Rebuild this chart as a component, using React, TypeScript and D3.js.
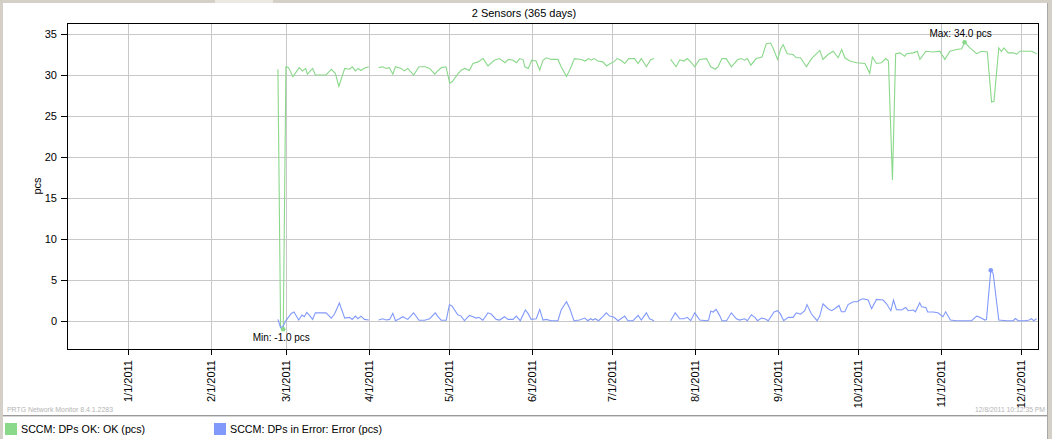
import React from "react";
import * as d3 from "d3";

// ---- data (day offsets from 1/1/2011, values in pcs; null = gap) ----
const okDays = [56,57,58,59,60,61.6,64,65.2,66.4,67,69,70,74,76,77.5,78.8,81,82.8,83.8,85,86,87,88.5,90,92,
  93.7,95.2,96.5,97.7,99,100,102.1,103.3,104.6,106.8,108.8,111,112.8,114.7,116,117.2,118.9,120.3,121.3,123.5,124.7,126,127.6,129,130.9,132.8,134.6,137,138.9,141,142.2,144,145.3,146.5,147.8,148.4,149.7,151,152.6,154,155.2,156.4,158.3,160.8,162,164,165.2,167,169.5,171,172.2,173.3,174.3,175.8,177.6,179,180.4,181.7,183,184.4,185.8,187.3,189.5,190.8,192,193,193.9,195.5,196.8,200,
  203,205,206.4,208,209.2,210.5,212,213.8,216.4,218,219.7,220.7,222.2,223.8,225.7,228,229.4,230.7,231.7,233,235,237.2,238.8,240.4,241.3,243,244.2,245.1,246.6,248.8,250,251.6,253.8,255.7,257.6,258.8,260,261.9,263.8,265.7,267,268.2,270,272.7,275.7,277.5,278.5,280,281.9,283.5,284.5,286,287.2,288.8,290.6,291.3,293.8,295.3,296.3,298.5,301.2,303.7,305.6,307.5,310,311.9,313,315,317.5,319.3,321.5,323.1,324,325.8,326.8,327.7,329.3,331.2,332.5,333.7,336.2,338.1,339.2,340];
const okValues = [30.7,-0.8,-1.0,31.0,30.9,29.8,30.9,30.5,30.8,30.1,30.8,30.0,30.0,30.7,30.2,28.6,30.8,30.7,31.0,30.5,30.8,30.55,30.85,31.0,null,
  30.9,31.0,30.8,30.9,30.1,31.0,30.8,30.5,30.8,30.0,31.0,31.0,30.8,30.1,30.55,30.9,31.0,29.0,29.2,30.2,30.6,30.8,30.55,31.4,31.6,32.0,31.1,31.8,32.0,31.5,31.9,31.8,31.5,32.0,31.85,31.0,30.8,31.8,31.7,30.6,31.8,32.1,31.9,31.9,31.0,29.8,30.6,32.0,31.9,31.7,32.0,31.8,32.0,31.7,31.6,31.1,31.4,31.6,32.0,31.8,31.4,32.0,32.0,31.4,32.0,31.5,31.0,31.85,32.0,null,
  31.9,31.0,31.85,31.7,32.0,31.6,31.0,31.9,32.0,31.0,30.7,31.0,32.0,32.0,31.0,31.85,32.0,31.8,32.0,31.2,32.0,32.2,33.8,33.9,33.3,31.9,33.2,33.7,32.6,32.5,32.1,32.1,31.0,32.0,32.6,33.0,31.9,32.5,32.9,32.1,33.1,32.1,31.7,31.5,31.4,30.2,32.2,31.4,31.5,32.0,31.7,17.2,32.6,32.7,32.3,32.6,32.7,32.9,31.9,32.9,32.8,32.9,31.9,32.9,33.1,33.2,34.0,33.3,32.6,32.9,32.8,26.7,26.8,33.3,32.85,33.3,32.7,32.7,32.55,32.9,32.9,32.9,32.7,32.6];

const errDays = [56,57,58,59,61,62,63.8,65,65.9,66.8,67.8,69,70,74,76,77.2,79,81,82.8,83.8,85,85.9,87.1,88.4,90,92,
  93.7,95.2,96.5,97.8,99,100,101.5,102.7,104.6,106.8,108.8,110.9,112.8,114.9,115.9,117.1,119,120.2,121.2,123.3,124.6,125.8,127.7,129,130.2,131.2,132.7,134.6,135.8,137.7,139,140.8,142.1,144,145.2,146.7,148.6,149.6,150.8,152.7,154,155.2,156.4,158.3,160.8,162,164,165.2,166.8,168.9,170.8,172,173,173.9,174.8,176,177.6,178.9,180.1,181.8,183.3,185.8,187,188.9,190.8,192,193.9,195.1,196.8,200,
  203,204.7,206.4,208,209.2,210.5,212,213.9,216.4,217.2,218,218.9,220,221.3,222.2,223.9,225.7,227.6,228.8,230.7,231.7,233.2,234.5,235.5,237,238.2,239.5,241.7,243,244,245.3,247,248.8,250,251.6,253.2,254,255.7,257.8,258.8,260,261.9,263.2,264.4,266,266.9,268.2,269.4,271.3,272.8,273.8,275,276.9,278.2,280,282.5,283.8,285.4,286.4,287.5,289.4,291,291.9,293.8,294.6,296.2,296.9,298.5,299.2,301.2,303,304.9,305.9,307.7,310,312.5,315.6,317.5,318.7,320.6,321.2,322.8,323.7,325.8,328.7,331.2,332,333.1,335.6,337.2,338,338.9,340];
const errValues = [0.2,-0.8,-0.6,0.05,0.93,1.1,0.12,0.73,0.53,1.05,0.69,0.2,1.0,1.0,0.36,0.85,2.2,0.36,0.45,0.2,0.6,0.28,0.6,0.2,0.12,null,
  0.12,0.28,0.12,0.2,0.94,0.04,0.28,0.53,0.2,1.0,0.1,0.1,0.28,1.0,0.53,0.1,0.1,2.0,1.8,0.77,0.6,0.04,0.69,0.53,0.36,0.45,0.1,1.0,0.85,0.2,0.12,0.53,0.2,0.2,0.6,0.04,1.35,0.93,0.2,0.28,1.42,0.12,0.2,0.04,0.04,1.34,2.36,1.55,0.04,0.12,0.36,0.04,0.28,0.12,0.28,0.04,0.53,1.0,0.6,0.45,0.04,0.6,0.04,0.04,0.69,0.12,1.0,0.28,0.04,null,
  0.04,1.0,0.28,0.28,0.45,0.04,1.0,0.12,0.04,0.12,1.2,1.1,1.42,0.69,0.04,0.04,1.0,0.28,0.12,0.28,0.04,0.77,0.45,0.04,0.36,0.28,0.04,1.1,1.26,0.9,0.04,0.45,0.45,1.0,0.85,1.26,2.0,0.85,0.04,0.6,2.1,1.5,1.26,1.5,1.9,1.13,1.13,2.0,2.35,2.35,2.56,2.72,2.56,1.5,2.64,2.56,2.1,1.26,2.56,1.39,1.34,1.66,1.26,1.34,1.13,2.23,1.75,1.66,1.1,1.1,1.0,0.53,1.13,0.12,0.04,0.04,0.04,0.6,0.45,0.12,0.2,6.2,5.8,0.12,0.04,0.04,0.3,0.04,0.04,0.12,0.3,0.04,0.3];

const yTicks = [0, 5, 10, 15, 20, 25, 30, 35];
const seriesNames = ["SCCM: DPs OK: OK (pcs)", "SCCM: DPs in Error: Error (pcs)"];
const seriesColors = ["#8ad88a", "#8199fb"];
const titleText = "2 Sensors (365 days)";
const footerLeft = "PRTG Network Monitor 8.4.1.2283";
const footerRight = "12/8/2011 10:12:35 PM";

const W = 1052, H = 439;
const M = { left: 67, right: 1039, top: 23, bottom: 349 };
const DAY0 = Date.UTC(2011, 0, 1);
const toDate = (d: number) => new Date(DAY0 + d * 86400000);

export default function App() {
  const x = d3.scaleUtc()
    .domain([new Date(Date.UTC(2010, 11, 9, 1, 26)), new Date(Date.UTC(2011, 11, 7, 20, 24))])
    .range([M.left, M.right]);
  const y = d3.scaleLinear().domain([-3.41, 36.34]).range([M.bottom, M.top]);
  const xTicks = d3.utcMonth.range(new Date(Date.UTC(2011, 0, 1)), new Date(Date.UTC(2011, 11, 2)));
  const fmt = d3.utcFormat("%-m/%-d/%Y");

  const mk = (days: number[], vals: (number | null)[]) =>
    days.map((d, i) => ({ t: toDate(d), v: vals[i] }));
  const ok = mk(okDays, okValues);
  const err = mk(errDays, errValues);
  const line = d3.line<{ t: Date; v: number | null }>()
    .defined((p) => p.v !== null)
    .x((p) => x(p.t))
    .y((p) => y(p.v as number));

  const valid = (arr: { t: Date; v: number | null }[]) => arr.filter((p) => p.v !== null) as { t: Date; v: number }[];
  const okMin = d3.least(valid(ok), (p) => p.v)!;
  const okMax = d3.greatest(valid(ok), (p) => p.v)!;
  const errMax = d3.greatest(valid(err), (p) => p.v)!;

  const font = "'Liberation Sans', Arial, sans-serif";

  return (
    <div style={{ position: "fixed", left: 0, top: 0 }}>
      <svg width={W} height={H} style={{ display: "block", fontFamily: font }}>
        <rect x={0} y={0} width={W} height={H} fill="#d4d0c8" />
        <rect x={3} y={3} width={1044} height={H - 3} fill="#ffffff" />
        <rect x={215} y={0} width={58} height={3} fill="#ece9e2" />
        <line x1={1047.5} x2={1047.5} y1={3} y2={H} stroke="#a8a8a8" />

        <text x={524} y={17} textAnchor="middle" fontSize={11} fill="#000">{titleText}</text>

        {/* grid */}
        {yTicks.map((t) => (
          <line key={"gy" + t} x1={M.left} x2={M.right} y1={Math.round(y(t)) + 0.5} y2={Math.round(y(t)) + 0.5} stroke="#c8c8c8" />
        ))}
        {xTicks.map((t, i) => (
          <line key={"gx" + i} x1={Math.round(x(t)) + 0.5} x2={Math.round(x(t)) + 0.5} y1={M.top} y2={M.bottom} stroke="#c8c8c8" />
        ))}

        {/* series */}
        <path d={line(ok) || ""} fill="none" stroke={seriesColors[0]} strokeWidth={1.1} />
        <path d={line(err) || ""} fill="none" stroke={seriesColors[1]} strokeWidth={1.1} />

        {/* markers */}
        <circle cx={x(okMin.t)} cy={y(okMin.v)} r={2.3} fill={seriesColors[0]} />
        <circle cx={x(okMax.t)} cy={y(okMax.v)} r={2.3} fill={seriesColors[0]} />
        <circle cx={x(errMax.t)} cy={y(errMax.v)} r={2.3} fill={seriesColors[1]} />
        <text x={x(okMin.t) - 2} y={y(okMin.v) + 12} textAnchor="middle" fontSize={10} fill="#000">
          {`Min: ${okMin.v.toFixed(1)} pcs`}
        </text>
        <text x={x(okMax.t) - 4} y={y(okMax.v) - 5} textAnchor="middle" fontSize={10} fill="#000">
          {`Max: ${okMax.v.toFixed(1)} pcs`}
        </text>

        {/* frame */}
        <rect x={M.left + 0.5} y={M.top + 0.5} width={M.right - M.left - 1} height={M.bottom - M.top} fill="none" stroke="#000" />

        {/* y axis */}
        {yTicks.map((t) => (
          <g key={"ty" + t}>
            <line x1={61} x2={M.left} y1={Math.round(y(t)) + 0.5} y2={Math.round(y(t)) + 0.5} stroke="#000" />
            <text x={57} y={y(t) + 4} textAnchor="end" fontSize={11} fill="#000">{t}</text>
          </g>
        ))}
        <text transform={`translate(41,${(M.top + M.bottom) / 2}) rotate(-90)`} textAnchor="middle" fontSize={11} fill="#000">pcs</text>

        {/* x axis */}
        {xTicks.map((t, i) => (
          <g key={"tx" + i}>
            <line x1={Math.round(x(t)) + 0.5} x2={Math.round(x(t)) + 0.5} y1={M.bottom} y2={M.bottom + 6} stroke="#000" />
            <text transform={`translate(${x(t) + 4},360) rotate(-90)`} textAnchor="end" fontSize={11} fill="#000">{fmt(t)}</text>
          </g>
        ))}

        {/* footer */}
        <text x={7} y={412} fontSize={8} fill="#b4b4b4" textLength={106} lengthAdjust="spacingAndGlyphs">{footerLeft}</text>
        <text x={1045} y={412} textAnchor="end" fontSize={8} fill="#b4b4b4" textLength={70} lengthAdjust="spacingAndGlyphs">{footerRight}</text>
        <line x1={3} x2={1047} y1={415.5} y2={415.5} stroke="#9a9a9a" />
        <line x1={3} x2={1047} y1={416.5} y2={416.5} stroke="#d8d8d8" />

        {/* legend */}
        {seriesNames.map((n, i) => (
          <g key={n} transform={`translate(${i === 0 ? 5 : 214},423)`}>
            <rect x={0} y={0} width={12} height={12} fill={seriesColors[i]} />
            <text x={16} y={10} fontSize={10.7} fill="#000">{n}</text>
          </g>
        ))}
      </svg>
    </div>
  );
}
